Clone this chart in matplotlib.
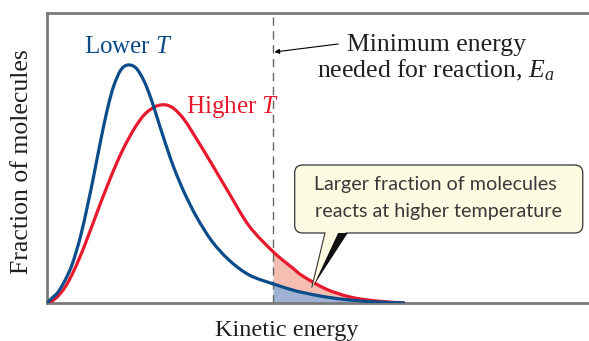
import numpy as np
import matplotlib
matplotlib.use("Agg")
import matplotlib.pyplot as plt
from matplotlib.patches import FancyBboxPatch, Polygon, PathPatch
from matplotlib.path import Path

plt.rcParams['mathtext.fontset'] = 'custom'
plt.rcParams['mathtext.rm'] = 'Liberation Serif'
plt.rcParams['mathtext.it'] = 'Liberation Serif:italic'

# Kinetic energy grid (arbitrary units)
energy = [0, 0.1, 0.22, 0.36, 0.5, 0.66, 0.8, 0.92, 1.06, 1.2, 1.32, 1.46, 1.6,
          1.76, 1.92, 2.06, 2.2, 2.36, 2.52, 2.72, 2.96, 3.26, 3.6, 4.0, 4.48,
          4.86, 5.06, 5.52, 6.0, 6.52, 7.06]
# Fraction of molecules, lower temperature
lower_T = [0, 0.05, 0.11, 0.23, 0.39, 0.66, 0.97, 1.26, 1.62, 1.95, 2.17, 2.33,
           2.38, 2.35, 2.22, 2.04, 1.82, 1.57, 1.34, 1.10, 0.86, 0.62, 0.43,
           0.28, 0.19, 0.13, 0.105, 0.06, 0.03, 0.01, 0]
# Fraction of molecules, higher temperature
higher_T = [0, 0.02, 0.07, 0.16, 0.29, 0.47, 0.65, 0.81, 1.00, 1.18, 1.33, 1.49,
            1.63, 1.77, 1.88, 1.94, 1.975, 1.98, 1.94, 1.83, 1.64, 1.39, 1.10,
            0.77, 0.51, 0.35, 0.27, 0.14, 0.06, 0.02, 0]
Ea = 4.48

BLUE = '#0c4c8a'
RED = '#e8192c'
GRAY = '#7a7a7a'
TXT = '#231f20'

x = np.array(energy, dtype=float)
yb = np.array(lower_T, dtype=float)
yr = np.array(higher_T, dtype=float)
n = len(x)


def smooth_segments(xs, ys, i0, i1):
    """Cubic Bezier (Catmull-Rom) vertices/codes passing through points i0..i1."""
    P = np.column_stack([xs, ys])
    step = 1 if i1 >= i0 else -1
    verts, codes = [], []
    for i in range(i0, i1, step):
        j = i + step
        pm = P[max(min(i - step, n - 1), 0)]
        p0, p1 = P[i], P[j]
        pp = P[max(min(j + step, n - 1), 0)]
        c1 = p0 + (p1 - pm) / 6.0
        c2 = p1 - (pp - p0) / 6.0
        verts += [tuple(c1), tuple(c2), tuple(p1)]
        codes += [Path.CURVE4] * 3
    return verts, codes


def curve_path(xs, ys):
    v, c = smooth_segments(xs, ys, 0, n - 1)
    return Path([(xs[0], ys[0])] + v, [Path.MOVETO] + c)


fig = plt.figure(figsize=(5.89, 3.41), dpi=100)
ax = fig.add_axes([47/589, 38/341, 1 - 47/589 + 0.01, 290/341])
ax.set_xlim(0, 10.84)
ax.set_ylim(0, 2.9)

iE = int(np.argmin(np.abs(x - Ea)))
# blue area beyond Ea
v, c = smooth_segments(x, yb, iE, n - 1)
verts = [(x[iE], yb[iE])] + v + [(x[-1], 0), (x[iE], 0), (x[iE], yb[iE])]
codes = [Path.MOVETO] + c + [Path.LINETO, Path.LINETO, Path.CLOSEPOLY]
ax.add_patch(PathPatch(Path(verts, codes), facecolor='#9fb2d4', lw=0, zorder=1))
# pink area between curves beyond Ea
v1, c1 = smooth_segments(x, yr, iE, n - 1)
v2, c2 = smooth_segments(x, yb, n - 1, iE)
verts = [(x[iE], yr[iE])] + v1 + [(x[-1], yb[-1])] + v2 + [(x[iE], yr[iE])]
codes = [Path.MOVETO] + c1 + [Path.LINETO] + c2 + [Path.CLOSEPOLY]
ax.add_patch(PathPatch(Path(verts, codes), facecolor='#f4beb2', lw=0, zorder=1))

ax.add_patch(PathPatch(curve_path(x, yr), facecolor='none', edgecolor=RED,
                       lw=2.3, capstyle='round', zorder=3))
ax.add_patch(PathPatch(curve_path(x, yb), facecolor='none', edgecolor=BLUE,
                       lw=2.3, capstyle='round', zorder=4))

ax.axvline(Ea, color='#666666', lw=1.0, ls=(0, (6, 4)), zorder=2)

for s in ['left', 'top', 'bottom']:
    ax.spines[s].set_color(GRAY)
    ax.spines[s].set_linewidth(2.0)
ax.spines['right'].set_visible(False)
ax.set_xticks([])
ax.set_yticks([])

FS = 18
ax.text(0.74, 2.50, 'Lower $T$', color=BLUE, fontsize=FS,
        family='Liberation Serif', ha='left', va='baseline')
ax.text(2.76, 1.90, 'Higher $T$', color=RED, fontsize=FS,
        family='Liberation Serif', ha='left', va='baseline')
ax.text(7.70, 2.52, 'Minimum energy', color=TXT, fontsize=FS + 0.5,
        family='Liberation Serif', ha='center', va='baseline')
ax.text(7.70, 2.26, 'needed for reaction, $E_a$', color=TXT, fontsize=FS + 0.5,
        family='Liberation Serif', ha='center', va='baseline')
ax.annotate('', xy=(4.50, 2.51), xytext=(5.76, 2.59),
            arrowprops=dict(arrowstyle='-|>', color='black', lw=0.8,
                            mutation_scale=7, shrinkA=0, shrinkB=0))

# Callout box
box = FancyBboxPatch((4.9, 0.70), 10.6 - 4.9, 1.38 - 0.70,
                     boxstyle='round,pad=0,rounding_size=0.16',
                     mutation_aspect=0.5, facecolor='#fdfbe1',
                     edgecolor='#333333', lw=0.9, zorder=5)
ax.add_patch(box)
ax.add_patch(Polygon([(5.5, 0.715), (5.92, 0.715), (5.24, 0.16)], closed=True,
                     facecolor='#fdfbe1', edgecolor='none', zorder=6))
ax.plot([5.5, 5.24], [0.70, 0.16], color='#333333', lw=0.8, zorder=7)
ax.add_patch(Polygon([(5.76, 0.70), (5.95, 0.70), (5.27, 0.17)], closed=True,
                     facecolor='#111111', edgecolor='none', zorder=7))
ax.text(7.68, 1.13, 'Larger fraction of molecules', color='#3a3a3a',
        fontsize=14.2, family='Lato', ha='center', va='baseline', zorder=8)
ax.text(7.74, 0.86, 'reacts at higher temperature', color='#3a3a3a',
        fontsize=14.2, family='Lato', ha='center', va='baseline', zorder=8)

fig.text(22/589, 1 - 162/341, 'Fraction of molecules', rotation=90,
         color=TXT, fontsize=18.5, family='Liberation Serif',
         ha='center', va='center')
fig.text(287/589, 1 - 336/341, 'Kinetic energy', color=TXT, fontsize=17.5,
         family='Liberation Serif', ha='center', va='baseline')

fig.savefig('out.png', dpi=100)
